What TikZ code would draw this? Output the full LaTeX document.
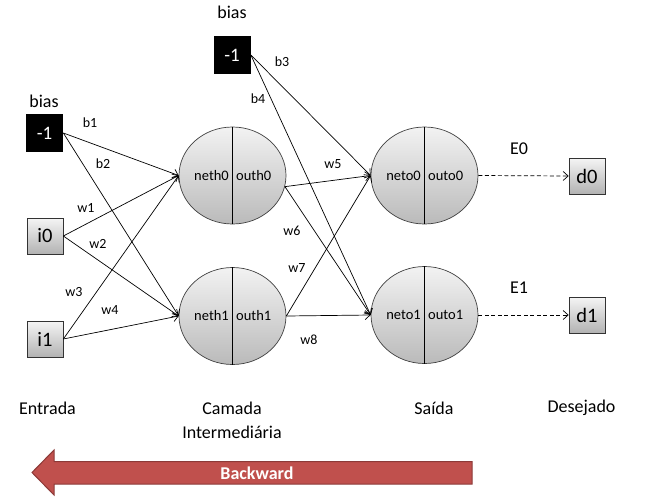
\documentclass[tikz,border=0pt]{standalone}
\usepackage{fontspec}
\setmainfont{Carlito}
\usetikzlibrary{arrows.meta,shapes.geometric,shadows,positioning}
\definecolor{vermelho}{HTML}{C0504D}
\definecolor{vermelhoesc}{HTML}{8C3A38}

\begin{document}
\begin{tikzpicture}[x=1pt,y=-1pt,>={Straight Barb[length=5pt,width=9pt]},
        caixa/.style={rectangle,draw=black!80,top color=black!4,bottom color=black!30,
          minimum width=36pt,minimum height=36pt,inner sep=0pt,font=\fontsize{20.5}{24}\selectfont,
          drop shadow={shadow xshift=1.2pt,shadow yshift=-1.2pt,opacity=.35}},
        caixabias/.style={rectangle,fill=black,text=white,minimum width=37pt,minimum height=38pt,
          inner sep=0pt,font=\fontsize{19}{24}\selectfont},
        neuronio/.style={ellipse,draw=black!75,top color=black!5,bottom color=black!27,
          minimum width=107pt,minimum height=97pt,inner sep=0pt},
        texto/.style={font=\fontsize{14.5}{16}\selectfont},
        rotulo/.style={font=\fontsize{14}{16}\selectfont,inner sep=1pt},
        titulo/.style={font=\fontsize{18}{24}\selectfont,align=center,inner sep=1pt},
        line width=0.7pt]
      \useasboundingbox (0,0) rectangle (658,498);
      % camadas
      \node [caixabias] (bias0) at (44.5,133)  {-1};
      \node [caixabias] (bias1) at (232,55)    {-1};
      \node [caixa]     (i0)    at (45,236)    {i0};
      \node [caixa]     (i1)    at (45,339)    {i1};
      \node [neuronio]  (h0)    at (232.5,175.5) {};
      \node [neuronio]  (h1)    at (232.5,316)   {};
      \node [neuronio]  (o0)    at (424.5,175.5) {};
      \node [neuronio]  (o1)    at (424.5,315)   {};
      \node [caixa]     (d0)    at (587,176)   {d0};
      \node [caixa]     (d1)    at (587,315)   {d1};
      \foreach \n in {h0,h1,o0,o1}
        \draw [line width=0.8pt] (\n.north) -- (\n.south);
      \node [texto, left=0pt of h0.center]  (nh0) {neth0};
      \node [texto, right=0pt of h0.center] (sh0) {outh0};
      \node [texto, left=0pt of h1.center]  (nh1) {neth1};
      \node [texto, right=0pt of h1.center] (sh1) {outh1};
      \node [texto, left=0pt of o0.center]  (no0) {neto0};
      \node [texto, right=0pt of o0.center] (so0) {outo0};
      \node [texto, left=0pt of o1.center]  (no1) {neto1};
      \node [texto, right=0pt of o1.center] (so1) {outo1};
      % titulos
      \node [titulo] (tb0) at (44,101) {bias};
      \node [titulo] (tb1) at (232,12) {bias};
      \node [titulo] (e0)  at (519,149) {E0};
      \node [titulo] (e1)  at (519,288) {E1};
      \node [titulo] (ent) at (47.5,408) {Entrada};
      \node [titulo] (cam) at (232,420) {Camada\\Intermediária};
      \node [titulo] (sai) at (434,408) {Saída};
      \node [titulo] (des) at (581.5,408) {Desejado};
      % pesos
      \node [rotulo] (lb1) at (90,123)  {b1};
      \node [rotulo] (lb2) at (103,164) {b2};
      \node [rotulo] (lb3) at (282,62)  {b3};
      \node [rotulo] (lb4) at (258,99)  {b4};
      \node [rotulo] (lw1) at (86,208)  {w1};
      \node [rotulo] (lw2) at (98,244)  {w2};
      \node [rotulo] (lw3) at (74,292)  {w3};
      \node [rotulo] (lw4) at (110,310) {w4};
      \node [rotulo] (lw5) at (333,164) {w5};
      \node [rotulo] (lw6) at (292,231) {w6};
      \node [rotulo] (lw7) at (297,268) {w7};
      \node [rotulo] (lw8) at (309,340) {w8};
      \path[->]
      (bias0.east) edge (h0.west)
                   edge (h1.west)
      (i0.east) edge (h0.west)
                edge (h1.west)
      (i1.east) edge (h0.west)
                edge (h1.west)
      (bias1.east) edge (o0.west)
                   edge (o1.west)
      (h0.-12) edge (o0.west)
               edge (o1.west)
      (h1.east) edge (o0.west)
                edge (o1.west)
      (o0.east) edge [dash pattern=on 4pt off 2.5pt] (d0.west)
      (o1.east) edge [dash pattern=on 4pt off 2.5pt] (d1.west);
      % seta
      \draw [fill=vermelho, draw=vermelhoesc, line width=1pt]
        (472,461.5) -- (54,461.5) -- (54,450) -- (32,472.5) -- (54,495)
        -- (54,484) -- (472,484) -- cycle;
      \node [titulo, text=white, font=\fontsize{18}{24}\selectfont\bfseries] (back) at (257,473) {Backward};
\end{tikzpicture}
\end{document}
